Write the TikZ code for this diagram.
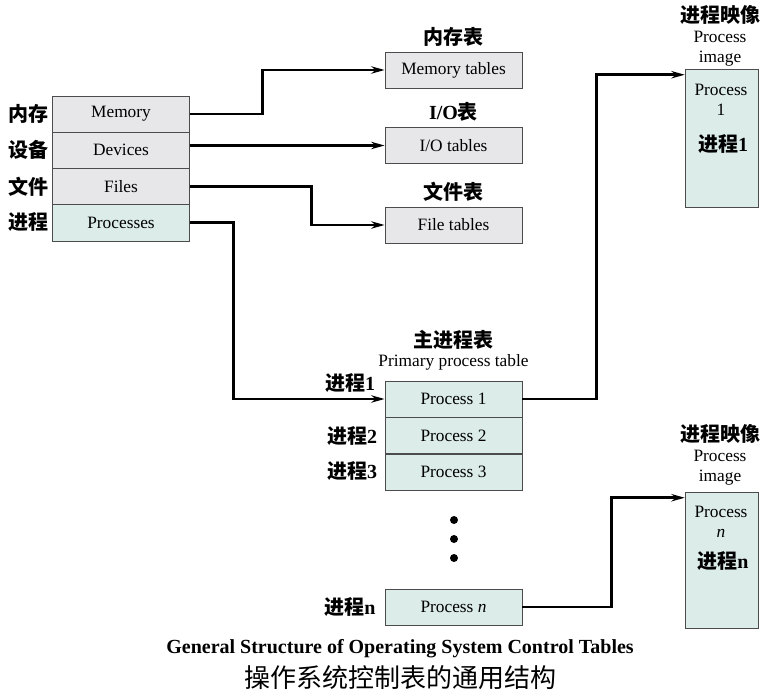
\documentclass[tikz,border=0pt]{standalone}
\usepackage{fontspec}
\setmainfont{Liberation Serif}
\newfontfamily\cjk{Noto Sans CJK SC}
\usetikzlibrary{arrows.meta}
\definecolor{boxgrey}{RGB}{231,231,234}
\definecolor{boxteal}{RGB}{219,236,233}
\tikzset{
    table-row/.style = {draw=black!70, thin, rectangle, inner sep=0pt, minimum width=103pt, minimum height=27.2pt, font=\fontsize{13}{14}\selectfont},
    grey-row/.style = {table-row, fill=boxgrey},
    teal-row/.style = {table-row, fill=boxteal},
    image-box/.style = {draw=black!70, fill=boxteal, thin, inner sep=0pt, minimum width=54.75pt},
    cjk-label/.style = {font=\cjk\bfseries\fontsize{15}{16}\selectfont},
    table-title/.style = {font=\fontsize{13}{15}\selectfont, align=center},
    link/.style = {draw=black, line width=2.2pt, -{Stealth[length=10pt, width=5.5pt]}},
}

\begin{document}
\begin{tikzpicture}[x=0.75pt, y=-0.75pt]
\useasboundingbox (0,0) rectangle (770,695);
% resource table on the left
\node[grey-row] (mem) at (121,114) {Memory};
\node[grey-row] (dev) at (121,150.2) {Devices};
\node[grey-row] (files) at (121,186.5) {Files};
\node[teal-row] (procs) at (121,222.7) {Processes};
\node[cjk-label] at (28,114) {内存};
\node[cjk-label] at (28,150) {设备};
\node[cjk-label] at (28,187) {文件};
\node[cjk-label] at (28,222) {进程};

% tables for each resource
\node[grey-row] (memtab) at (453.5,70) {Memory tables};
\node[grey-row] (iotab) at (453.5,145.5) {I/O tables};
\node[grey-row] (filetab) at (453.5,225) {File tables};
\node[cjk-label] at (453.5,37) {内存表};
\node[cjk-label] at (453.5,112) {\rmfamily I/O\cjk 表};
\node[cjk-label] at (453.5,192) {文件表};

% primary process table
\node[cjk-label] at (453.5,340) {主进程表};
\node[table-title] at (453.5,362) {Primary process table};
\node[teal-row] (p1) at (453.5,399) {Process 1};
\node[teal-row] (p2) at (453.5,435.5) {Process 2};
\node[teal-row] (p3) at (453.5,472) {Process 3};
\node[teal-row] (pn) at (453.5,607) {Process \textit{n}};
\node[cjk-label] at (350,383) {进程\rmfamily 1};
\node[cjk-label] at (352,436) {进程\rmfamily 2};
\node[cjk-label] at (352,471) {进程\rmfamily 3};
\node[cjk-label] at (350,607) {进程\rmfamily n};
\foreach \y in {520,539,558}
    \fill (454,\y) circle (3pt);

% process images
\node[image-box, minimum height=103.5pt] (img1) at (721.5,138) {};
\node[table-title] at (720,36) {{\cjk\bfseries\fontsize{15}{15}\selectfont 进程映像}\\Process\\image};
\node[table-title] at (721,100) {Process\\1};
\node[cjk-label] at (723,144) {进程\rmfamily 1};
\node[image-box, minimum height=102pt] (imgn) at (721.5,560) {};
\node[table-title] at (720,455) {{\cjk\bfseries\fontsize{15}{15}\selectfont 进程映像}\\Process\\image};
\node[table-title] at (721,522) {Process\\\textit{n}};
\node[cjk-label] at (723,561) {进程\rmfamily n};

% links
\draw[link] (mem.east) -- ++(73,0) |- (memtab.west);
\draw[link] (dev.east |- iotab.west) -- (iotab.west);
\draw[link] (files.east) -- ++(122,0) |- (filetab.west);
\draw[link] (procs.east) -- ++(44,0) |- (p1.west);
\draw[link] (p1.east) -- ++(74,0) |- ([yshift=-4.5pt]img1.north west);
\draw[link] (pn.east) -- ++(89,0) |- ([yshift=-4.5pt]imgn.north west);

% caption
\node[font=\bfseries\fontsize{15}{17}\selectfont] at (400,649) {General Structure of Operating System Control Tables};
\node[font=\cjk\fontsize{19.5}{21}\selectfont] at (400,678) {操作系统控制表的通用结构};
\end{tikzpicture}
\end{document}
